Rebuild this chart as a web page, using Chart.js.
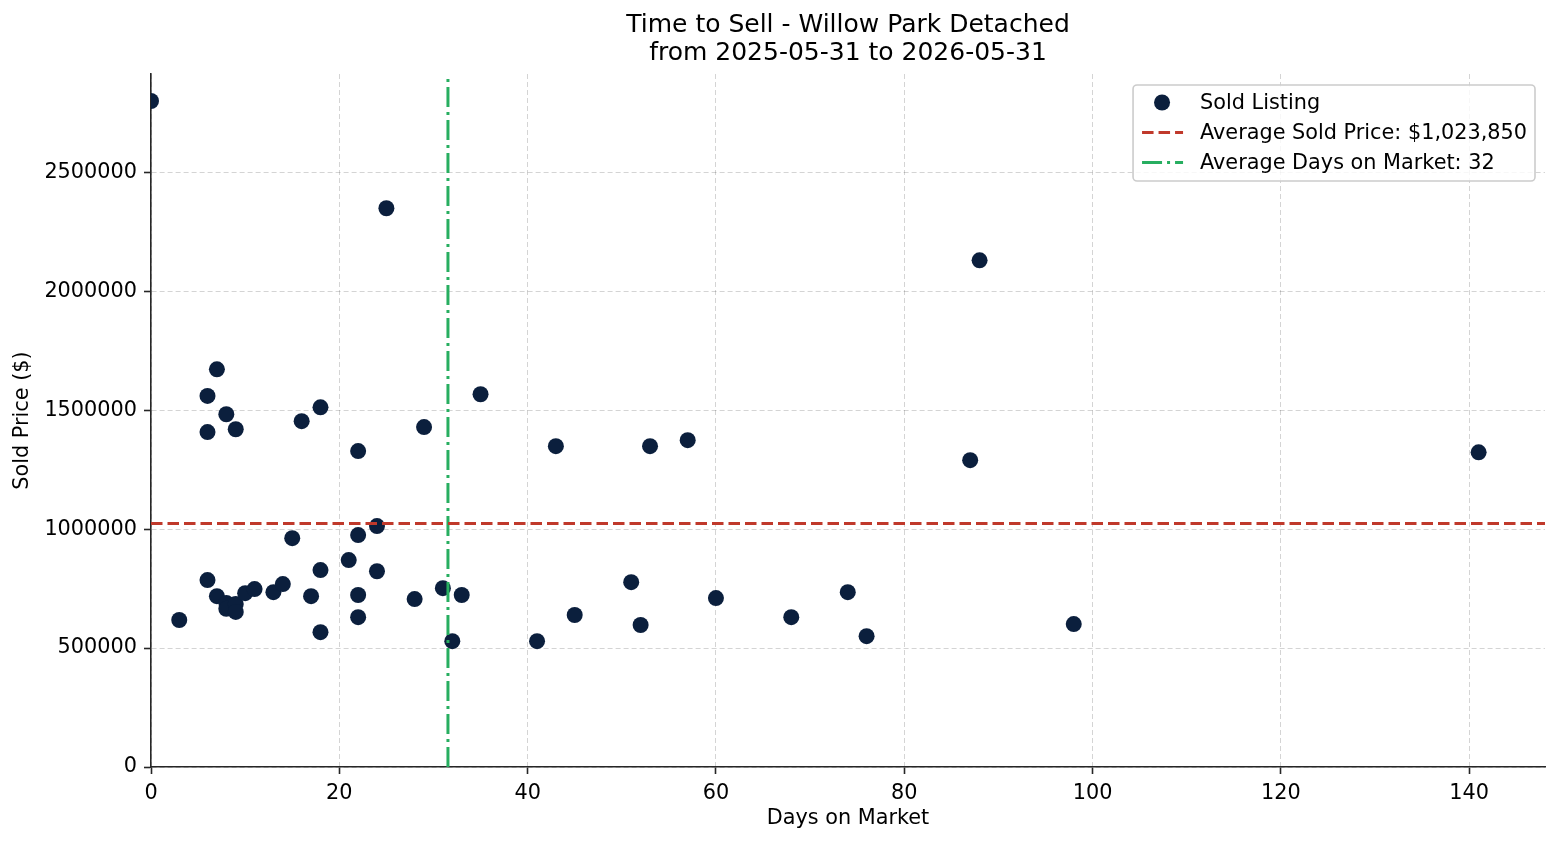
<!DOCTYPE html>
<html>
<head>
<meta charset="utf-8">
<title>Time to Sell - Willow Park Detached</title>
<script src="https://cdn.jsdelivr.net/npm/chart.js@4.4.1/dist/chart.umd.min.js"></script>
<style>
    html, body { margin: 0; padding: 0; background: #ffffff; }
    #wrap { width: 1560px; height: 845px; }
</style>
</head>
<body>
<div id="wrap"><canvas id="timeToSellChart" width="1560" height="845"></canvas></div>
<script>
    // Sold listings
    const daysOnMarket = [0, 3, 6, 6, 6, 7, 7, 8, 8, 8, 9, 9, 9, 10, 11, 13, 14, 15, 16, 17,
        18, 18, 18, 21, 22, 22, 22, 22, 24, 24, 25, 28, 29, 31, 32, 33, 35, 41, 43, 45,
        51, 52, 53, 57, 60, 68, 74, 76, 87, 88, 98, 141];
    const soldPrices = [2800000, 618000, 1560000, 1408000, 786000, 1672000, 718000, 1483000, 690000, 665000,
        1420000, 685000, 652000, 731000, 748000, 735000, 769000, 962000, 1454000, 718000,
        1512000, 828000, 567000, 870000, 1328000, 975000, 723000, 630000, 1013000, 823000,
        2349000, 706000, 1429000, 752000, 529000, 723000, 1567000, 529000, 1349000, 639000,
        777000, 597000, 1349000, 1374000, 710000, 630000, 735000, 550000, 1290000, 2130000,
        601000, 1323000];

    const avgSoldPrice = 1023850;
    const avgDays = daysOnMarket.reduce((a, b) => a + b, 0) / daysOnMarket.length;

    const xTicks = [0, 20, 40, 60, 80, 100, 120, 140];
    const yTicks = [0, 500000, 1000000, 1500000, 2000000, 2500000];
    const xMax = 148.05;
    const yMax = 2913500;

    const titleLines = ['Time to Sell - Willow Park Detached', 'from 2025-05-31 to 2026-05-31'];

    const POINT_COLOR = '#0b1f3d';
    const PRICE_COLOR = '#c0392b';
    const DAYS_COLOR = '#27ae60';
    const FONT = 'DejaVu Sans';

    const soldPoints = daysOnMarket.map((d, i) => ({ x: d, y: soldPrices[i] }));

    const legendItems = [
        { type: 'point', color: POINT_COLOR, label: 'Sold Listing' },
        { type: 'line', color: PRICE_COLOR, dash: [11.5, 5], label: 'Average Sold Price: $' + avgSoldPrice.toLocaleString('en-US') },
        { type: 'line', color: DAYS_COLOR, dash: [20, 5, 3, 5], label: 'Average Days on Market: ' + Math.round(avgDays) }
    ];

    // Matplotlib-style legend box in the top right of the plot area
    const boxLegend = {
        id: 'boxLegend',
        afterDraw(chart) {
            const ctx = chart.ctx;
            const area = chart.chartArea;
            ctx.save();
            ctx.font = '20.8px "' + FONT + '"';
            const maxW = Math.max(...legendItems.map(it => ctx.measureText(it.label).width));
            const w = 67 + maxW + 8;
            const h = 96;
            const x = area.right - 10 - w;
            const y = area.top + 11;

            ctx.beginPath();
            ctx.roundRect(x, y, w, h, 4);
            ctx.fillStyle = 'rgba(255,255,255,0.8)';
            ctx.fill();
            ctx.lineWidth = 1.6;
            ctx.strokeStyle = '#cccccc';
            ctx.stroke();

            legendItems.forEach((it, i) => {
                const cy = y + 17.5 + i * 30;
                if (it.type === 'point') {
                    ctx.beginPath();
                    ctx.arc(x + 29, cy, 8, 0, Math.PI * 2);
                    ctx.fillStyle = it.color;
                    ctx.fill();
                } else {
                    ctx.beginPath();
                    ctx.setLineDash(it.dash);
                    ctx.lineWidth = 3;
                    ctx.strokeStyle = it.color;
                    ctx.moveTo(x + 9, cy);
                    ctx.lineTo(x + 50, cy);
                    ctx.stroke();
                    ctx.setLineDash([]);
                }
                ctx.fillStyle = '#000000';
                ctx.textBaseline = 'middle';
                ctx.textAlign = 'left';
                ctx.fillText(it.label, x + 67, cy + 1.5);
            });
            ctx.restore();
        }
    };

    const ctx = document.getElementById('timeToSellChart').getContext('2d');

    new Chart(ctx, {
        type: 'scatter',
        data: {
            datasets: [{
                label: 'Sold Listing',
                data: soldPoints,
                backgroundColor: POINT_COLOR,
                borderWidth: 0,
                pointRadius: 8,
                pointHoverRadius: 8,
                order: 2
            }, {
                label: legendItems[1].label,
                type: 'line',
                data: [{ x: 0, y: avgSoldPrice }, { x: xMax, y: avgSoldPrice }],
                borderColor: PRICE_COLOR,
                borderWidth: 3,
                borderDash: [11.5, 5],
                pointRadius: 0,
                fill: false,
                order: 1
            }, {
                label: legendItems[2].label,
                type: 'line',
                data: [{ x: avgDays, y: 0 }, { x: avgDays, y: yMax }],
                borderColor: DAYS_COLOR,
                borderWidth: 3,
                borderDash: [20, 5, 3, 5],
                pointRadius: 0,
                fill: false,
                order: 1
            }]
        },
        options: {
            responsive: false,
            animation: false,
            layout: {
                padding: { left: 0, right: 15, top: 0, bottom: 0 }
            },
            plugins: {
                legend: { display: false },
                tooltip: { enabled: false },
                title: {
                    display: true,
                    text: titleLines,
                    fullSize: false,
                    color: '#000000',
                    font: { family: FONT, size: 25, weight: 'normal', lineHeight: 1.12 },
                    padding: { top: 11, bottom: 7 }
                }
            },
            scales: {
                x: {
                    type: 'linear',
                    min: 0,
                    max: xMax,
                    afterFit: s => { s.height = 78; },
                    afterBuildTicks: s => { s.ticks = xTicks.map(v => ({ value: v })); },
                    // in Chart.js v4 border.dash dashes the grid lines
                    border: { display: true, color: '#262626', width: 1.6, dash: [5, 3] },
                    grid: {
                        color: 'rgba(0,0,0,0.17)',
                        lineWidth: 1,
                        tickColor: '#262626',
                        tickWidth: 1.6,
                        tickLength: 7,
                        tickBorderDash: []
                    },
                    ticks: {
                        color: '#000000',
                        padding: 7,
                        maxRotation: 0,
                        font: { family: FONT, size: 20.8 },
                        callback: v => String(v)
                    },
                    title: {
                        display: true,
                        text: 'Days on Market',
                        color: '#000000',
                        font: { family: FONT, size: 20.8, lineHeight: 1.2 },
                        padding: { top: 0, bottom: 13.5 }
                    }
                },
                y: {
                    type: 'linear',
                    min: 0,
                    max: yMax,
                    afterFit: s => { s.width = 151; },
                    afterBuildTicks: s => { s.ticks = yTicks.map(v => ({ value: v })); },
                    border: { display: true, color: '#262626', width: 1.6, dash: [5, 3] },
                    grid: {
                        color: 'rgba(0,0,0,0.17)',
                        lineWidth: 1,
                        tickColor: '#262626',
                        tickWidth: 1.6,
                        tickLength: 7,
                        tickBorderDash: []
                    },
                    ticks: {
                        color: '#000000',
                        padding: 7,
                        font: { family: FONT, size: 20.8 },
                        callback: v => String(v)
                    },
                    title: {
                        display: true,
                        text: 'Sold Price ($)',
                        color: '#000000',
                        font: { family: FONT, size: 20.8, lineHeight: 1.2 },
                        padding: { top: 10.5, bottom: 0 }
                    }
                }
            }
        },
        plugins: [boxLegend]
    });
</script>
</body>
</html>
